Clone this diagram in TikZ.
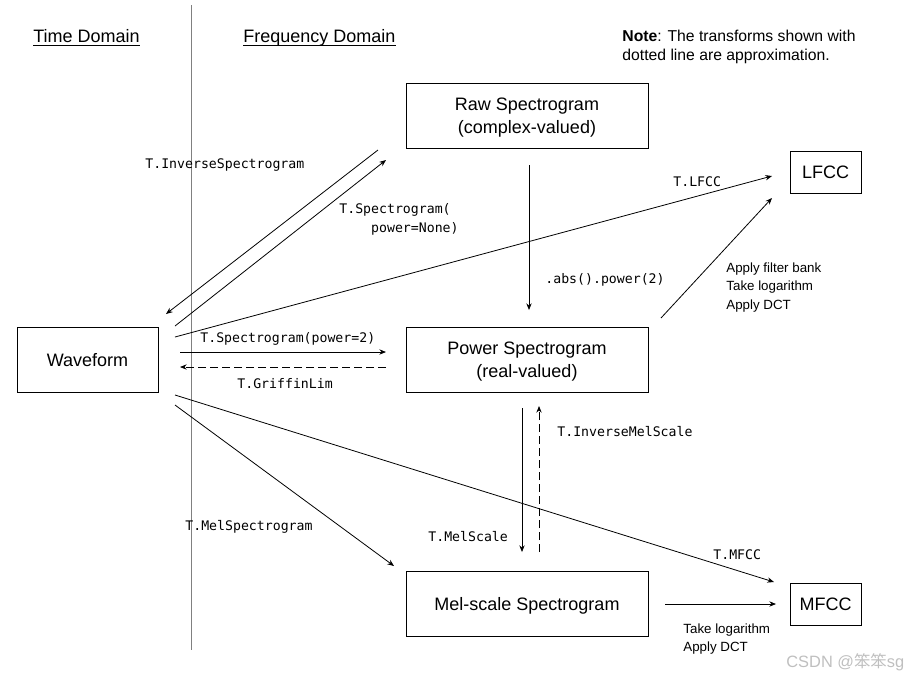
\documentclass[tikz,border=0pt]{standalone}
\usepackage{fontspec}
\setmainfont{Liberation Sans}
\setmonofont{DejaVu Sans Mono}
\newfontfamily\cjkfont{Noto Sans CJK SC}
\usetikzlibrary{arrows.meta}
\begin{document}
\begin{tikzpicture}[x=0.75pt,y=-0.75pt,
		>={Stealth[length=5pt,width=4pt]},
		line width=0.6pt,
		box/.style={draw, inner sep=0pt, align=center, text depth=0pt, minimum height=48.75pt, font=\fontsize{13.5}{17.25}\selectfont},
		widebox/.style={box, minimum width=181.5pt},
		smallbox/.style={box, minimum width=53.25pt, minimum height=31.5pt},
		code/.style={anchor=west, inner sep=0pt, font=\ttfamily\fontsize{9.9}{14.25}\selectfont, align=left},
		steps/.style={anchor=north west, inner sep=0pt, font=\fontsize{10}{13.9}\selectfont, align=left},
		heading/.style={anchor=base west, inner sep=0pt, font=\fontsize{13.5}{16}\selectfont}]
		\useasboundingbox (0,0) rectangle (907,676);
		% domains
		\draw[gray, line width=0.5pt] (191,5) -- (191,650);
		\node [heading] (time) at (33,42.5) {Time Domain};
		\node [heading] (freq) at (243,42.5) {Frequency Domain};
		\draw[line width=0.6pt] (time.west |- 0,45.5) -- (time.east |- 0,45.5);
		\draw[line width=0.6pt] (freq.west |- 0,45.5) -- (freq.east |- 0,45.5);
		\node [anchor=north west, inner sep=0pt, align=left, font=\fontsize{11.8}{14.25}\selectfont] (note) at (622,30) {\textbf{Note}: The transforms shown with\\dotted line are approximation.};
		% boxes
		\node [widebox] (raw) at (527,115.5) {Raw Spectrogram\\(complex-valued)};
		\node [widebox] (power) at (527,359.5) {Power Spectrogram\\(real-valued)};
		\node [widebox] (mel) at (527,604) {Mel-scale Spectrogram};
		\node [box, minimum width=105.75pt] (wave) at (87.5,359.5) {Waveform};
		\node [smallbox] (lfcc) at (825.5,172) {LFCC};
		\node [smallbox] (mfcc) at (825.5,604) {MFCC};
		% arrow ends
		\coordinate (invA) at (378,150);   \coordinate (invB) at (166,314);
		\coordinate (specA) at (175,326);  \coordinate (specB) at (386,160);
		\coordinate (lfccA) at (175,337);  \coordinate (lfccB) at (772,176);
		\coordinate (absA) at (529,165);   \coordinate (absB) at (529,310);
		\coordinate (bankA) at (661,318);  \coordinate (bankB) at (772,198);
		\coordinate (powA) at (180,352);   \coordinate (powB) at (386,352);
		\coordinate (griA) at (386,367);   \coordinate (griB) at (180,367);
		\coordinate (melA) at (522,408);   \coordinate (melB) at (522,552);
		\coordinate (imelA) at (539,552);  \coordinate (imelB) at (539,406);
		\coordinate (mspA) at (175,405);   \coordinate (mspB) at (394,566);
		\coordinate (mfccA) at (175,395);  \coordinate (mfccB) at (774,582);
		\coordinate (logA) at (665,604);   \coordinate (logB) at (776,604);
		% transforms
		\draw[->] (invA) -- (invB);
		\draw[->] (specA) -- (specB);
		\draw[->] (lfccA) -- (lfccB);
		\draw[->] (absA) -- (absB);
		\draw[->] (bankA) -- (bankB);
		\draw[->] (powA) -- (powB);
		\draw[->, dashed, dash pattern=on 6pt off 3pt] (griA) -- (griB);
		\draw[->] (melA) -- (melB);
		\draw[->, dashed, dash pattern=on 6pt off 3pt] (imelA) -- (imelB);
		\draw[->] (mspA) -- (mspB);
		\draw[->] (mfccA) -- (mfccB);
		\draw[->] (logA) -- (logB);
		% labels
		\node [code] (linv) at (145,165) {T.InverseSpectrogram};
		\node [code] (lspec) at (339,219.5) {T.Spectrogram(\\\phantom{xxxx}power=None)};
		\node [code] (llfcc) at (673,182) {T.LFCC};
		\node [code] (labs) at (545,280) {.abs().power(2)};
		\node [code] (lpow) at (200,339) {T.Spectrogram(power=2)};
		\node [code] (lgri) at (237,384) {T.GriffinLim};
		\node [code] (limel) at (557,432) {T.InverseMelScale};
		\node [code] (lmsp) at (185,527) {T.MelSpectrogram};
		\node [code] (lmel) at (428,537) {T.MelScale};
		\node [code] (lmfcc) at (713,555) {T.MFCC};
		\node [steps] (lbank) at (726,262) {Apply filter bank\\Take logarithm\\Apply DCT};
		\node [steps] (llog) at (683,623) {Take logarithm\\Apply DCT};
		\node [anchor=west, inner sep=0pt, text=black!25, font=\fontsize{12.3}{14}\selectfont] (mark) at (786,662) {CSDN @{\cjkfont 笨笨}sg};
	\end{tikzpicture}
\end{document}
